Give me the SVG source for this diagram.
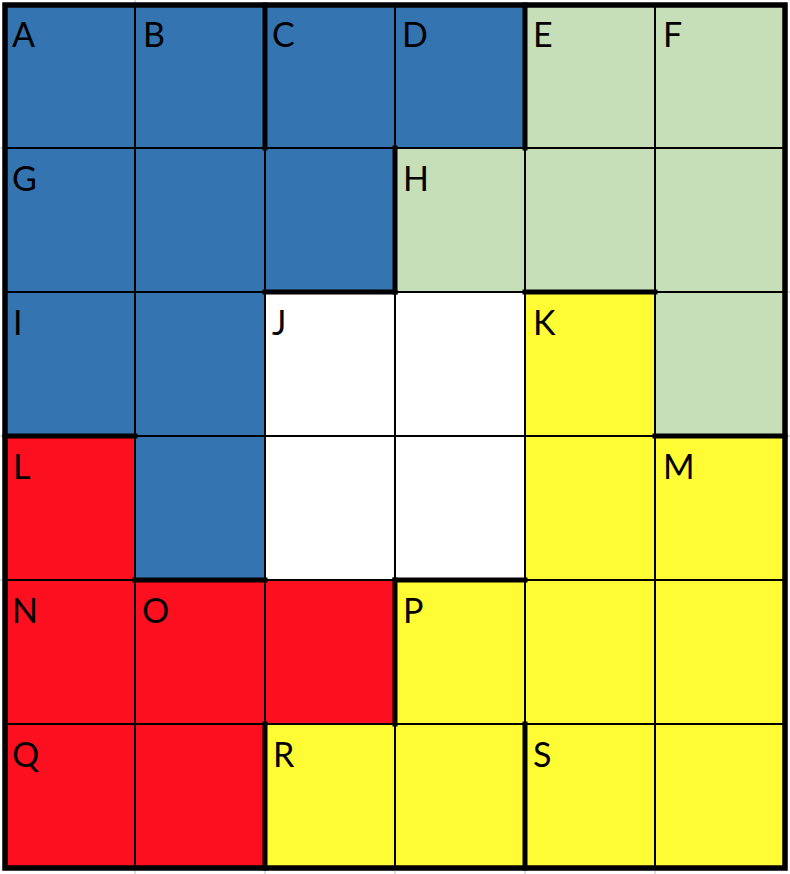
<svg xmlns="http://www.w3.org/2000/svg" width="790" height="874" viewBox="0 0 790 874">
<style>
.b{fill:#3474B1}.g{fill:#C6DFB8}.r{fill:#FC0F1F}.y{fill:#FFFC36}.w{fill:#FFFFFF}
.thin{stroke:#000;stroke-width:2;fill:none}
.thick{stroke:#000;stroke-width:5;fill:none;stroke-linecap:square}
.tick{stroke:#D4D4D4;stroke-width:1.5}
text{font-family:Lato,"Open Sans","Liberation Sans",sans-serif;font-size:34px;fill:#000}
</style>
<rect width="790" height="874" fill="#fff"/>
<g id="ticks">
<line class="tick" x1="135" y1="0" x2="135" y2="4"/>
<line class="tick" x1="0" y1="148" x2="3" y2="148"/>
<line class="tick" x1="0" y1="436" x2="3" y2="436"/>
<line class="tick" x1="0" y1="580" x2="3" y2="580"/>
<line class="tick" x1="786" y1="292" x2="790" y2="292"/>
<line class="tick" x1="786" y1="436" x2="790" y2="436"/>
<line class="tick" x1="135" y1="870" x2="135" y2="874"/>
<line class="tick" x1="265" y1="870" x2="265" y2="874"/>
<line class="tick" x1="395" y1="870" x2="395" y2="874"/>
<line class="tick" x1="525" y1="870" x2="525" y2="874"/>
<line class="tick" x1="655" y1="870" x2="655" y2="874"/>
</g>
<g id="cells">
<rect class="b" x="5" y="5" width="130" height="143"/>
<rect class="b" x="135" y="5" width="130" height="143"/>
<rect class="b" x="265" y="5" width="130" height="143"/>
<rect class="b" x="395" y="5" width="130" height="143"/>
<rect class="g" x="525" y="5" width="130" height="143"/>
<rect class="g" x="655" y="5" width="130" height="143"/>
<rect class="b" x="5" y="148" width="130" height="144"/>
<rect class="b" x="135" y="148" width="130" height="144"/>
<rect class="b" x="265" y="148" width="130" height="144"/>
<rect class="g" x="395" y="148" width="130" height="144"/>
<rect class="g" x="525" y="148" width="130" height="144"/>
<rect class="g" x="655" y="148" width="130" height="144"/>
<rect class="b" x="5" y="292" width="130" height="144"/>
<rect class="b" x="135" y="292" width="130" height="144"/>
<rect class="w" x="265" y="292" width="130" height="144"/>
<rect class="w" x="395" y="292" width="130" height="144"/>
<rect class="y" x="525" y="292" width="130" height="144"/>
<rect class="g" x="655" y="292" width="130" height="144"/>
<rect class="r" x="5" y="436" width="130" height="144"/>
<rect class="b" x="135" y="436" width="130" height="144"/>
<rect class="w" x="265" y="436" width="130" height="144"/>
<rect class="w" x="395" y="436" width="130" height="144"/>
<rect class="y" x="525" y="436" width="130" height="144"/>
<rect class="y" x="655" y="436" width="130" height="144"/>
<rect class="r" x="5" y="580" width="130" height="144"/>
<rect class="r" x="135" y="580" width="130" height="144"/>
<rect class="r" x="265" y="580" width="130" height="144"/>
<rect class="y" x="395" y="580" width="130" height="144"/>
<rect class="y" x="525" y="580" width="130" height="144"/>
<rect class="y" x="655" y="580" width="130" height="144"/>
<rect class="r" x="5" y="724" width="130" height="144"/>
<rect class="r" x="135" y="724" width="130" height="144"/>
<rect class="y" x="265" y="724" width="130" height="144"/>
<rect class="y" x="395" y="724" width="130" height="144"/>
<rect class="y" x="525" y="724" width="130" height="144"/>
<rect class="y" x="655" y="724" width="130" height="144"/>
</g>
<g id="grid">
<line class="thin" x1="135" y1="5" x2="135" y2="868"/>
<line class="thin" x1="265" y1="5" x2="265" y2="868"/>
<line class="thin" x1="395" y1="5" x2="395" y2="868"/>
<line class="thin" x1="525" y1="5" x2="525" y2="868"/>
<line class="thin" x1="655" y1="5" x2="655" y2="868"/>
<line class="thin" x1="5" y1="148" x2="785" y2="148"/>
<line class="thin" x1="5" y1="292" x2="785" y2="292"/>
<line class="thin" x1="5" y1="436" x2="785" y2="436"/>
<line class="thin" x1="5" y1="580" x2="785" y2="580"/>
<line class="thin" x1="5" y1="724" x2="785" y2="724"/>
</g>
<g id="cage-borders">
<line class="thick" x1="265" y1="5" x2="265" y2="148"/>
<line class="thick" x1="525" y1="5" x2="525" y2="148"/>
<line class="thick" x1="395" y1="148" x2="395" y2="292"/>
<line class="thick" x1="265" y1="292" x2="395" y2="292"/>
<line class="thick" x1="525" y1="292" x2="655" y2="292"/>
<line class="thick" x1="5" y1="436" x2="135" y2="436"/>
<line class="thick" x1="655" y1="436" x2="785" y2="436"/>
<line class="thick" x1="135" y1="580" x2="265" y2="580"/>
<line class="thick" x1="395" y1="580" x2="525" y2="580"/>
<line class="thick" x1="395" y1="580" x2="395" y2="724"/>
<line class="thick" x1="265" y1="724" x2="265" y2="868"/>
<line class="thick" x1="525" y1="724" x2="525" y2="868"/>
<rect x="5" y="5" width="780" height="863" fill="none" stroke="#000" stroke-width="5.5"/>
</g>
<g id="labels">
<g id="A"><text x="12" y="47">A</text></g>
<g id="B"><text x="143" y="47">B</text></g>
<g id="C"><text x="272" y="47">C</text></g>
<g id="D"><text x="402" y="47">D</text></g>
<g id="E"><text x="533" y="47">E</text></g>
<g id="F"><text x="663" y="47">F</text></g>
<g id="G"><text x="12" y="191">G</text></g>
<g id="H"><text x="403" y="191">H</text></g>
<g id="I"><text x="13" y="335">I</text></g>
<g id="J"><text x="272" y="335">J</text></g>
<g id="K"><text x="533" y="335">K</text></g>
<g id="L"><text x="13" y="479">L</text></g>
<g id="M"><text x="663" y="479">M</text></g>
<g id="N"><text x="12" y="623">N</text></g>
<g id="O"><text x="142" y="623">O</text></g>
<g id="P"><text x="403" y="623">P</text></g>
<g id="Q"><text x="12" y="767">Q</text></g>
<g id="R"><text x="273" y="767">R</text></g>
<g id="S"><text x="533" y="767">S</text></g>
</g>
</svg>
